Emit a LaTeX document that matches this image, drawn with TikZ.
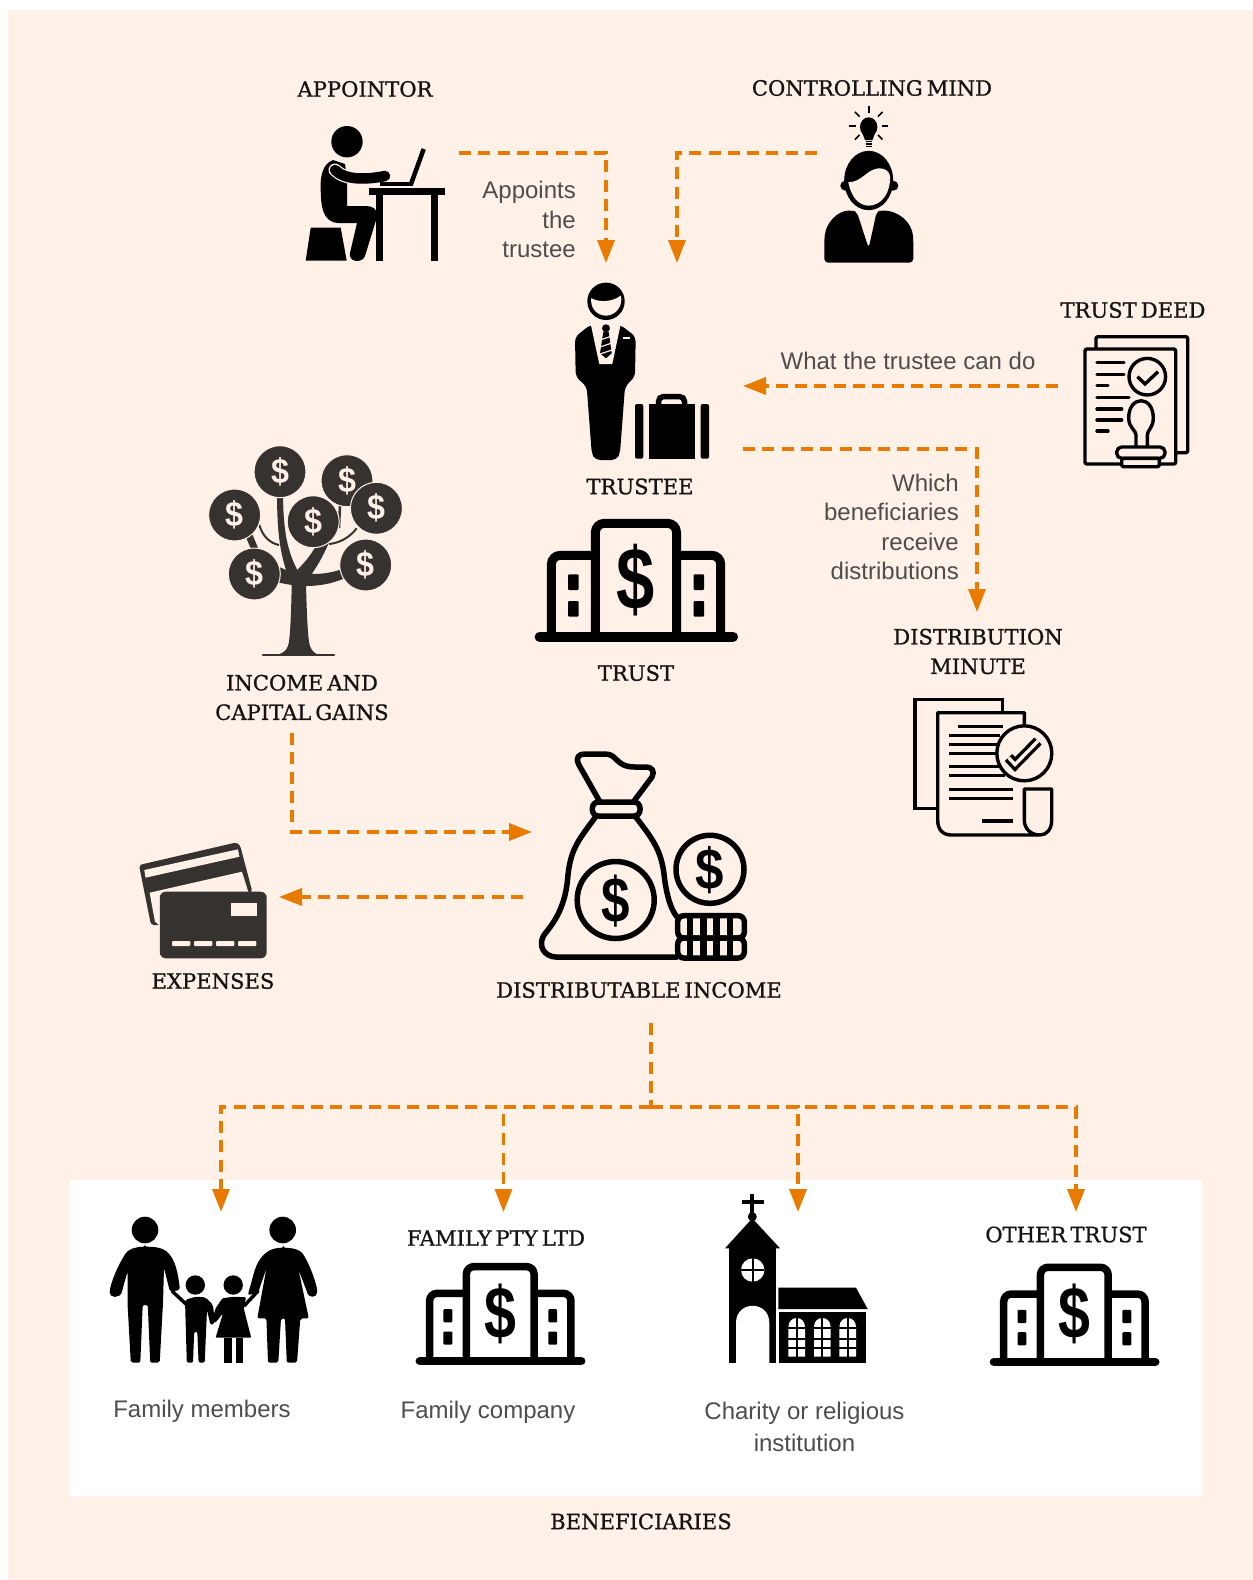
\documentclass[tikz,border=0pt]{standalone}
\usepackage{fontspec}
\setmainfont{Liberation Sans}
\newfontfamily\headfont[FakeBold=1.0,WordSpace=0.6]{DejaVu Serif}
\usetikzlibrary{arrows.meta,positioning}

\definecolor{peachbg}{HTML}{FFF1E7}
\definecolor{flowcol}{HTML}{E87A00}
\definecolor{inkdark}{HTML}{36322F}
\definecolor{headcol}{HTML}{141414}
\definecolor{bodycol}{HTML}{4D4D4D}

\tikzset{
  headlabel/.style={font=\headfont\fontsize{21.1}{29.5}\selectfont,text=headcol,align=center,inner sep=0pt},
  bodylabel/.style={font=\fontsize{24}{29.5}\selectfont,text=bodycol,inner sep=0pt},
  flowline/.style={flowcol,line width=3.5pt,dash pattern=on 12pt off 7.3pt,-{Triangle[length=23pt,width=17pt]}},
  flowbare/.style={flowcol,line width=3.5pt,dash pattern=on 12pt off 7.3pt},
  thinink/.style={black,line width=3.4pt,line cap=round,line join=round},
  dollarmark/.style={font=\bfseries\fontsize{#1}{#1}\selectfont,inner sep=0pt},
}

% one bank building: name, centre x, base y, scale
\newcommand{\bankicon}[4]{
  \begin{scope}[shift={(#2,#3)},scale=#4]
    \draw[black,line width=9*#4pt,line join=round,rounded corners=9*#4pt] (-40.9,0) -- (-40.9,-113.4) -- (40.2,-113.4) -- (40.2,0);
    \draw[black,line width=9*#4pt,rounded corners=9*#4pt] (-40.9,-81.4) -- (-84.9,-81.4) -- (-84.9,0);
    \draw[black,line width=9*#4pt,rounded corners=9*#4pt] (40.2,-81.4) -- (84.4,-81.4) -- (84.4,0);
    \draw[black,line width=10*#4pt,line cap=round] (-96.7,0) -- (96.7,0);
    \foreach \wy in {-62.4,-35.7} {
      \fill[black,rounded corners=1pt] (-68.3,\wy) rectangle +(10.6,15.7);
      \fill[black,rounded corners=1pt] (57.3,\wy) rectangle +(10.6,15.7);
    }
    \node[dollarmark=88,xscale=0.78,transform shape] (#1) at (-0.6,-57) {\$};
  \end{scope}
}

\begin{document}
\begin{tikzpicture}[x=1pt,y=-1pt]
\useasboundingbox (0,0) rectangle (1253,1580);
\fill[white] (0,0) rectangle (1253,1580);
\fill[peachbg] (8,10) rectangle (1253,1580);
\fill[white] (70,1180) rectangle (1202,1496);

% Labels
\node[headlabel] (appointor) at (365,89) {APPOINTOR};
\node[headlabel] (mind) at (872,88) {CONTROLLING MIND};
\node[headlabel] (deed) at (1133,310) {TRUST DEED};
\node[headlabel] (trustee) at (640,486.5) {TRUSTEE};
\node[headlabel] (trust) at (636,673) {TRUST};
\node[headlabel] (income) at (302,697.5) {INCOME AND\\CAPITAL GAINS};
\node[headlabel] (minute) at (978,651.5) {DISTRIBUTION\\MINUTE};
\node[headlabel] (expenses) at (213,981) {EXPENSES};
\node[headlabel] (distincome) at (639,990) {DISTRIBUTABLE INCOME};
\node[headlabel] (company) at (496,1238) {FAMILY PTY LTD};
\node[headlabel] (othertrust) at (1066,1234.5) {OTHER TRUST};
\node[headlabel] (beneficiaries) at (641,1521.5) {BENEFICIARIES};

\node[bodylabel,align=right,anchor=east] (appoints) at (576,219.5) {Appoints\\the\\trustee};
\node[bodylabel] (whatcan) at (908,361) {What the trustee can do};
\node[bodylabel,align=right,anchor=east] (which) at (959,527) {Which\\beneficiaries\\receive\\distributions};
\node[bodylabel] (members) at (202,1411) {Family members};
\node[bodylabel] (familyco) at (488,1412) {Family company};
\node[bodylabel,align=center] (charity) at (804.5,1427) {Charity or religious\\[2pt]institution};

% Connector ends
\coordinate (appointorout) at (459,153);
\coordinate (trusteeleft) at (606,263);
\coordinate (mindout) at (817,153);
\coordinate (trusteeright) at (677,263);
\coordinate (deedout) at (1058,386);
\coordinate (trusteeback) at (743,386);
\coordinate (trusteeout) at (743,449);
\coordinate (minutein) at (977,612);
\coordinate (incomeout) at (292,733);
\coordinate (bagin) at (532,832);
\coordinate (bagout) at (523,897);
\coordinate (cardin) at (279,897);
\coordinate (bagdown) at (651,1023);
\coordinate (hub) at (651,1107);
\coordinate (membersin) at (221,1212);
\coordinate (companyin) at (503.5,1212);
\coordinate (charityin) at (798,1212);
\coordinate (otherin) at (1076,1212);

\draw[flowline] (appointorout) -| (trusteeleft);
\draw[flowline] (mindout) -| (trusteeright);
\draw[flowline] (deedout) -- (trusteeback);
\draw[flowline] (trusteeout) -| (minutein);
\draw[flowline] (incomeout) |- (bagin);
\draw[flowline] (bagout) -- (cardin);
\draw[flowbare] (bagdown) -- (hub);
\foreach \target in {membersin,companyin,charityin,otherin} {
  \draw[flowline] (hub) -| (\target);
}

% Appointor at the desk
\fill (347,141.7) circle (15.7);
\fill (333,160) .. controls (322,164) and (320,178) .. (320.7,190) .. controls (321,205) and (322,222) .. (338,223) -- (357,223) -- (350,253) .. controls (348,262) and (362,264) .. (365,256) -- (377,217) .. controls (378,208) and (372,206) .. (365,206) -- (347,206) -- (347,178) -- (345,164) -- cycle;
\draw[peachbg,line width=13pt,line cap=round,line join=round] (335,170) .. controls (345,180) and (365,180) .. (385,176);
\draw[black,line width=10.5pt,line cap=round,line join=round] (335,170) .. controls (345,180) and (365,180) .. (385,176);
\fill (310.7,227.7) -- (340.7,227.7) -- (346.7,260.7) -- (305.7,260.7) -- cycle;
\fill (369,188.3) rectangle (445,195);
\fill (376,195) rectangle (383.3,260.7);
\fill (430.7,195) rectangle (438,260.7);
\fill (380,182) rectangle (413,185.7);
\draw[black,line width=4.5pt] (411,184) -- (423.7,149);

% Controlling mind
\fill (868.7,127) ellipse (8.7 and 9.7);
\fill (861.5,131) -- (875.9,131) -- (872.5,140) -- (865,140) -- cycle;
\foreach \ly in {141.5,144,146.5} {
  \draw[black,line width=1.6pt] (865.5,\ly) -- (872,\ly);
}
\foreach \ang in {0,-45,-90,-135,180,45,135} {
  \draw[black,line width=1.6pt] (868.7,125.7) ++(\ang:13) -- ++(\ang:6.5);
}
\fill (845.3,185.7) circle (5);
\fill (893.3,185.7) circle (5);
\fill (868.7,180.5) ellipse (24.5 and 29.7);
\fill[peachbg] (848.3,182.3) .. controls (862,182) and (866,170) .. (878.3,168.3) .. controls (885,168) and (889,171) .. (890,176) .. controls (891,192) and (882,205.5) .. (868.7,205.7) .. controls (858,205.5) and (851,196) .. (848.3,182.3) -- cycle;
\fill[rounded corners=4pt] (824.3,262.7) -- (824.3,240) .. controls (826,222) and (838,211) .. (852,210.5) -- (856.7,211.5) -- (868.7,248.3) -- (876.7,211.5) -- (881,210.5) .. controls (898,211) and (912,222) .. (913.3,240) -- (913.3,262.7) -- cycle;

% Trustee with case
\fill (606,301.3) circle (18.7);
\fill[peachbg] (591.3,298) .. controls (597,302) and (611,303) .. (621,295.5) .. controls (623,306) and (616,315.5) .. (606,315.7) .. controls (596,315.5) and (590,307) .. (591.3,298) -- cycle;
\fill[rounded corners=5pt] (590,325) -- (575,337) -- (575.7,376.7) -- (586.7,386.7) -- (591.7,453) -- (595,460) -- (616.7,460) -- (620,453) -- (625,386.7) -- (635,376.7) -- (635.7,336.7) -- (620.7,325) -- cycle;
\fill[peachbg] (590.7,324) -- (620.7,324) -- (612.3,364) -- (599.3,364) -- cycle;
\fill (606,328.3) circle (4);
\fill (603.3,332) -- (608.7,332) -- (611.7,353.3) -- (606,358.3) -- (600,353.3) -- cycle;
\foreach \sy in {338,345,352} {
  \draw[peachbg,line width=1.2pt] (600,\sy+2) -- (612,\sy-2);
}
\fill[peachbg] (622.7,336.5) rectangle (630,338.7);
\fill[rounded corners=2pt] (635,404) rectangle (643.3,458.7);
\fill (649,404) rectangle (694.7,458.7);
\fill[rounded corners=2pt] (700.7,404) rectangle (709,458.7);
\draw[black,line width=5.5pt,rounded corners=5pt] (658.5,405) -- (658.5,396.5) -- (684.5,396.5) -- (684.5,405);

% Trust deed
\draw[thinink,fill=peachbg,rounded corners=2pt] (1096,336.7) rectangle (1187.7,452.7);
\draw[thinink,fill=peachbg,rounded corners=2pt] (1085,349) rectangle (1175.7,464);
\foreach \ly/\lx in {362.7/1124,374.3/1124,385.7/1108,397.3/1129,409/1121.7,420/1121.7,431/1108} {
  \draw[thinink] (1097,\ly) -- (\lx,\ly);
}
\draw[thinink] (1147.3,376.7) circle (18.3);
\draw[thinink,line cap=butt,line join=miter] (1137.5,376.7) -- (1145,384) -- (1158,371.7);
\draw[thinink,fill=peachbg] (1136,448.3) -- (1136,435) .. controls (1136,430) and (1128.7,428) .. (1128.7,418) .. controls (1128.7,395) and (1153.3,395) .. (1153.3,418) .. controls (1153.3,428) and (1147.3,430) .. (1147.3,435) -- (1147.3,448.3);
\draw[thinink,fill=peachbg,rounded corners=5pt] (1116.7,447) rectangle (1165,458.3);
\draw[thinink,fill=peachbg,rounded corners=2pt] (1121.7,458.3) rectangle (1159.3,466.7);

% Money tree
\fill[inkdark] (291.7,585) -- (275,582) -- (275,565) -- (286,570) .. controls (278,545) and (277,520) .. (277,490) -- (283,490) .. controls (283,530) and (287,550) .. (297.3,570) .. controls (307,560) and (315,550) .. (318,540) -- (330,540) .. controls (325,552) and (320,562) .. (311.7,574) .. controls (322,574) and (332,573) .. (345,568) -- (345,578) .. controls (332,584) and (318,586) .. (306,586) .. controls (307,620) and (308,640) .. (310,646) .. controls (312,651) and (314,653) .. (318,654.5) -- (278,654.5) .. controls (283,653) and (286,651) .. (288,646) .. controls (290,640) and (291,620) .. (291.7,585) -- cycle;
\draw[inkdark,line width=2.5pt,line cap=round] (263,655) -- (334,655);
\draw[inkdark,line width=7pt] (248,533) -- (256,552);
\draw[inkdark,line width=2pt] (259.3,525) .. controls (263,537) and (270,543) .. (279,545);
\draw[inkdark,line width=2pt] (356.7,528.3) .. controls (350,537) and (340,543) .. (329,544);
\draw[inkdark,line width=2.5pt] (340,505) -- (339,528);
\foreach \cx/\cy/\cid in {280/471.7/a,347/480.7/b,376.4/508.3/c,234.6/515/d,313.2/521.7/e,254.3/574/f,365.7/565/g} {
  \draw[peachbg,line width=1pt,fill=inkdark] (\cx,\cy) circle (26);
  \node[dollarmark=35,xscale=0.92,text=peachbg] (treecoin\cid) at (\cx,\cy) {\$};
}

% Trust building
\bankicon{trustmark}{636.3}{636.7}{1}

% Distribution minute
\draw[thinink,line join=miter,fill=peachbg] (936.7,808.3) -- (915,808.3) -- (915,699.3) -- (1002.7,699.3) -- (1002.7,712.7);
\draw[thinink,line join=round,fill=peachbg] (1024.3,725) -- (1024.3,712.7) -- (937.7,712.7) -- (937.7,820) .. controls (937.7,830) and (943,835) .. (951.7,835) -- (1040,835) .. controls (1047,835) and (1051.7,829) .. (1051.7,820) -- (1051.7,789) -- (1024.3,789) -- (1024.3,820) .. controls (1024.3,829) and (1031,835) .. (1040,835);
\foreach \ly/\la/\lb in {726.7/958.3/1003.3,735.7/949.3/1000,744.7/949.3/1000,753.7/949.3/1000,766.7/949.3/1003,775.7/949.3/1005,789.3/949.3/1012.7,798.3/949.3/1012.7,821/981.7/1012.7} {
  \draw[black,line width=3.4pt] (\la,\ly) -- (\lb,\ly);
}
\draw[thinink,fill=peachbg] (1024.3,753.3) circle (27.5);
\draw[black,line width=3.4pt,double=peachbg,double distance=3.4pt,line join=miter] (1008.5,757.5) -- (1015,764.5) -- (1038,741);

% Expenses cards
\fill[inkdark,rounded corners=3pt] (139,865) -- (236,842.5) -- (240,845) -- (252.4,892) -- (160,925) -- (151,925) -- cycle;
\fill[peachbg] (144.3,870) -- (238,849.3) -- (239.4,856.7) -- (145.5,877.7) -- cycle;
\fill[peachbg] (149.6,892.7) -- (242,871.7) -- (248,891) -- (254,900) -- (165,930) -- (155,921.7) -- cycle;
\fill[inkdark,rounded corners=6pt] (159.8,891.7) rectangle (266.7,958.3);
\fill[peachbg] (230.8,903.3) rectangle (256.5,915.7);
\foreach \dx in {172,194,216,238} {
  \fill[peachbg,rounded corners=1pt] (\dx,941) rectangle +(18.4,5);
}

% Money bag and coins
\tikzset{bagline/.style={black,line width=5.5pt,line cap=round,line join=round}}
\draw[bagline] (599.4,801) -- (579,765) .. controls (575,757) and (579,754) .. (585,754) -- (605,754) .. controls (618,754) and (615,767) .. (635,767) -- (646,767) .. controls (652,767) and (655,771) .. (652,777) -- (634,801);
\draw[bagline,rounded corners=6pt] (592.4,802) rectangle (640,816);
\draw[bagline] (595.3,817.3) .. controls (577,842) and (570,850) .. (567.5,880) .. controls (565,905) and (556,920) .. (546.3,932) .. controls (535,945) and (545,957) .. (556,957) -- (677,957);
\draw[bagline] (636,817.3) .. controls (655,842) and (662,852) .. (664.7,880) .. controls (667,895) and (670,908) .. (677,917);
\draw[black,line width=5.5pt] (615.7,900) circle (38.5);
\node[dollarmark=64,xscale=0.8,text=black] (bagdollar) at (615.7,901) {\$};
\draw[black,line width=5.5pt] (710,869.3) circle (34);
\node[dollarmark=58,xscale=0.88,text=black] (coindollar) at (710,870) {\$};
\draw[bagline,rounded corners=6pt] (677.7,915.7) rectangle (744.3,938);
\draw[bagline,rounded corners=6pt] (677.7,938) rectangle (744.3,958);
\foreach \vx in {690,703.3,716.7,730} {
  \draw[black,line width=6.5pt] (\vx,916) -- (\vx,958);
}

% Family members
\fill (145,1230) circle (13.3);
\fill[rounded corners=2pt] (145,1246.7) .. controls (135,1247) and (128,1249) .. (124,1256) .. controls (117,1268) and (112,1280) .. (109.8,1290) .. controls (109,1298) and (120,1299) .. (122.4,1290) -- (127.5,1271.7) -- (127.5,1303) -- (130.8,1362.7) -- (140.3,1362.7) -- (142.7,1305) -- (147.8,1305) -- (150.2,1362.7) -- (159.7,1362.7) -- (163,1303) -- (164,1268) -- (170,1291.7) -- (180,1290) .. controls (178,1272) and (175,1258) .. (164.7,1250) .. controls (158,1247) and (152,1246.7) .. (145,1246.7) -- cycle;
\draw[black,line width=3.5pt,line cap=round] (172,1291) -- (186,1304);
\fill (195.3,1285) circle (9.7);
\fill[rounded corners=2pt] (195.3,1296.7) -- (185,1300) -- (186.8,1362.7) -- (193,1362.7) -- (194.2,1331.7) -- (197.3,1331.7) -- (198.6,1362.7) -- (204.7,1362.7) -- (207,1310) -- (210.5,1325) -- (215,1323.3) -- (213,1305) -- (205.4,1297.3) -- cycle;
\fill (233.2,1285) circle (9.7);
\fill[rounded corners=1pt] (233.2,1296.7) -- (222.4,1298.3) -- (215.6,1308.3) -- (211.5,1323) -- (216,1322) -- (223,1313.3) -- (215.6,1337.7) -- (251.2,1337.7) -- (243.7,1308.3) -- (246,1297.3) -- cycle;
\fill (224,1337.7) rectangle (231.5,1362.7);
\fill (236,1337.7) rectangle (242.7,1362.7);
\draw[black,line width=3.5pt,line cap=round] (258,1291) -- (244,1306);
\fill (282.7,1230) circle (13.3);
\fill[rounded corners=2pt] (283.4,1247.7) .. controls (294,1248) and (300,1250) .. (303.7,1255) .. controls (311,1268) and (315,1280) .. (317.3,1290) .. controls (317,1298) and (309,1298) .. (307,1291.7) -- (298.6,1270) -- (308.8,1318.3) -- (300.3,1318.3) -- (297,1362.7) -- (286.8,1362.7) -- (285,1318.3) -- (281,1318.3) -- (278.3,1362.7) -- (268,1362.7) -- (266.4,1318.3) -- (257.3,1318.3) -- (266.4,1268.3) -- (258,1293) -- (247.8,1295) -- (252.9,1276.7) .. controls (256,1265) and (262,1248) .. (283.4,1247.7) -- cycle;

% Family company and other trust
\bankicon{companymark}{500.5}{1361.3}{0.835}
\bankicon{othermark}{1074.6}{1362}{0.835}

% Church
\draw[black,line width=4pt] (752.3,1194) -- (752.3,1215);
\draw[black,line width=4pt] (741.7,1202.3) -- (764,1202.3);
\fill (752.3,1216.7) circle (4.5);
\fill (752.3,1218.3) -- (780,1248.3) -- (725,1248.3) -- cycle;
\fill (729,1248) rectangle (776,1363.3);
\fill[white] (736,1363.3) -- (736,1323) .. controls (736,1300) and (769.3,1300) .. (769.3,1323) -- (769.3,1363.3) -- cycle;
\fill[white] (752.7,1270) circle (11.7);
\draw[black,line width=2pt] (741,1270) -- (764.4,1270);
\draw[black,line width=2pt] (752.7,1258.3) -- (752.7,1281.7);
\fill (778.3,1287.7) -- (856,1287.7) -- (867.7,1309) -- (778.3,1309) -- cycle;
\fill (779,1312) rectangle (865.7,1363.3);
\foreach \wx in {796.7,822.3,847.7} {
  \fill[white] (\wx-8.3,1356.7) -- (\wx-8.3,1327) .. controls (\wx-8.3,1315) and (\wx+8.3,1315) .. (\wx+8.3,1327) -- (\wx+8.3,1356.7) -- cycle;
  \draw[black,line width=2pt] (\wx,1318) -- (\wx,1357);
  \foreach \wy in {1328.3,1339,1348} {
    \draw[black,line width=2pt] (\wx-8.3,\wy) -- (\wx+8.3,\wy);
  }
}

\end{tikzpicture}
\end{document}
